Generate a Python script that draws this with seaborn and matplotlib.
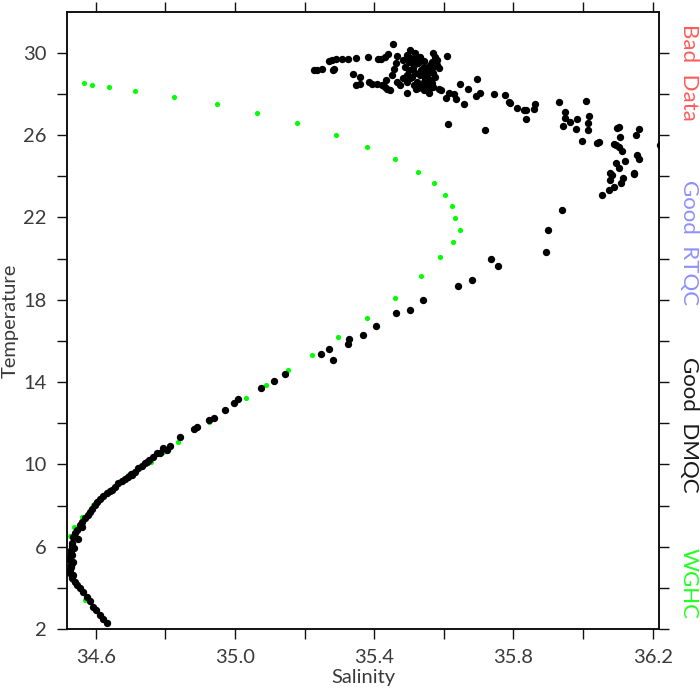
"""T-S diagram: float profile (Good DMQC) against WGHC climatology."""

import matplotlib
matplotlib.use("Agg")
import matplotlib.pyplot as plt
import seaborn as sns
import pandas as pd

sns.set_style("ticks")
plt.rcParams["font.family"] = ["Lato", "DejaVu Sans"]

TEXT = "#3a3a3a"

# ── Data ─────────────────────────────────────────────────────────────────────

wghc_sal = [34.567, 34.588, 34.637, 34.713, 34.824, 34.947, 35.063, 35.179,
            35.290, 35.379, 35.460, 35.525, 35.571, 35.603, 35.623, 35.632,
            35.646, 35.625, 35.589, 35.535, 35.459, 35.378, 35.297, 35.222,
            35.152, 35.089, 35.031, 34.926, 34.837, 34.794, 34.758, 34.694,
            34.591, 34.560, 34.538, 34.526, 34.531, 34.569, 34.634]
wghc_temp = [28.52, 28.43, 28.32, 28.14, 27.87, 27.52, 27.09, 26.57,
             26.00, 25.44, 24.82, 24.22, 23.65, 23.07, 22.54, 21.97,
             21.40, 20.82, 20.09, 19.15, 18.10, 17.10, 16.17, 15.33,
             14.58, 13.87, 13.22, 12.07, 11.09, 10.59, 10.11, 9.48,
             8.03, 7.44, 6.96, 6.52, 4.38, 3.41, 2.35]

# deep part of the profile, bottom upwards
dmqc_deep_sal = [34.632, 34.621, 34.612, 34.602, 34.593, 34.584, 34.574, 34.564,
                 34.555, 34.546, 34.541, 34.532, 34.531, 34.526, 34.526, 34.529,
                 34.531, 34.526, 34.526, 34.529, 34.528, 34.531, 34.531, 34.536,
                 34.541, 34.545, 34.555, 34.561, 34.569, 34.578, 34.584, 34.598,
                 34.604, 34.612, 34.621, 34.632, 34.646, 34.656, 34.665, 34.684,
                 34.693, 34.704, 34.713, 34.722, 34.733, 34.742, 34.753, 34.766,
                 34.775, 34.785, 34.794, 34.814, 34.842, 34.881, 34.890, 34.924,
                 34.940, 34.972, 34.996, 35.010, 35.076, 35.112, 35.144, 35.248,
                 35.269, 35.281, 35.324, 35.329, 35.367, 35.406, 35.464, 35.503,
                 35.539, 35.640, 35.680, 35.735, 35.755, 35.893, 35.900, 35.939,
                 36.054, 34.534, 34.529, 34.535, 34.533, 34.538, 34.550, 34.560,
                 34.588, 34.640, 34.676, 34.700, 34.748, 34.806]
dmqc_deep_temp = [2.28, 2.49, 2.68, 2.90, 3.08, 3.34, 3.57, 3.80,
                  3.98, 4.16, 4.30, 4.48, 4.54, 4.72, 4.87, 5.01,
                  5.19, 5.35, 5.51, 5.69, 5.84, 6.03, 6.16, 6.48,
                  6.66, 6.81, 7.05, 7.20, 7.38, 7.54, 7.70, 8.03,
                  8.17, 8.30, 8.46, 8.59, 8.75, 8.92, 9.08, 9.27,
                  9.39, 9.48, 9.63, 9.81, 9.92, 10.05, 10.21, 10.34,
                  10.57, 10.57, 10.78, 10.89, 11.34, 11.70, 11.80, 12.16,
                  12.24, 12.64, 12.97, 13.16, 13.71, 14.05, 14.39, 15.36,
                  15.59, 15.06, 15.85, 16.08, 16.30, 16.72, 17.34, 17.51,
                  17.99, 18.67, 18.97, 19.96, 19.64, 20.33, 21.40, 22.37,
                  23.07, 4.62, 5.10, 5.28, 5.60, 5.95, 6.35, 6.95,
                  7.85, 8.70, 9.18, 9.55, 10.12, 10.70]

# mixed layer / upper thermocline scatter
dmqc_top_sal = [35.228, 35.235, 35.249, 35.281, 35.285, 35.269, 35.278, 35.291,
                35.307, 35.326, 35.348, 35.381, 35.412, 35.420, 35.431, 35.441,
                35.465, 35.455, 35.457, 35.462, 35.339, 35.358, 35.348, 35.359,
                35.384, 35.393, 35.408, 35.422, 35.431, 35.436, 35.446, 35.434,
                35.451, 35.465, 35.475, 35.494, 35.521, 35.542, 35.558, 35.494,
                35.503, 35.518, 35.532, 35.570, 35.575, 35.566, 35.585, 35.499,
                35.513, 35.527, 35.542, 35.556, 35.570, 35.501, 35.518, 35.532,
                35.546, 35.561, 35.575, 35.503, 35.522, 35.537, 35.551, 35.566,
                35.494, 35.511, 35.546, 35.580, 35.522, 35.542, 35.559, 35.484,
                35.513, 35.527, 35.561, 35.585, 35.591, 35.489, 35.508, 35.551,
                35.566, 35.580, 35.494, 35.542, 35.556, 35.568, 35.499, 35.534,
                35.513, 35.482, 35.609, 35.607, 35.616, 35.628, 35.636, 35.645,
                35.657, 35.668, 35.695, 35.693, 35.705, 35.745, 35.775, 35.787,
                35.791, 35.810, 35.829, 35.837, 35.837, 35.860, 35.863, 35.930,
                35.949, 35.949, 35.941, 35.963, 35.982, 35.980, 35.997, 36.009,
                36.013, 36.013, 36.016, 36.040, 36.047, 36.088, 36.097, 36.102,
                36.095, 36.102, 36.107, 36.112, 36.121, 36.094, 36.102, 36.078,
                36.083, 36.076, 36.088, 36.073, 36.115, 36.109, 36.145, 36.147,
                36.155, 36.162, 36.153, 36.160, 35.612, 35.719, 36.220]
dmqc_top_temp = [29.15, 29.16, 29.21, 29.18, 29.19, 29.61, 29.65, 29.68,
                 29.70, 29.71, 29.74, 29.79, 29.68, 29.68, 29.81, 29.92,
                 29.86, 30.41, 29.19, 29.52, 28.97, 28.84, 28.43, 28.46,
                 28.59, 28.48, 28.48, 28.43, 28.35, 28.22, 28.19, 28.67,
                 28.92, 28.59, 28.43, 28.03, 28.22, 28.19, 28.06, 29.89,
                 30.13, 29.97, 29.81, 30.00, 29.78, 29.57, 29.24, 29.57,
                 29.40, 29.49, 29.32, 29.16, 29.00, 29.16, 29.00, 28.92,
                 28.76, 28.68, 28.84, 28.76, 28.59, 28.43, 28.35, 28.51,
                 28.92, 29.24, 29.08, 29.40, 29.73, 29.62, 29.40, 28.76,
                 28.43, 28.27, 28.27, 28.22, 28.19, 29.32, 28.84, 28.92,
                 29.24, 29.65, 28.59, 28.59, 28.55, 28.32, 29.78, 29.16,
                 29.68, 29.65, 29.84, 27.79, 28.06, 27.99, 27.74, 28.47,
                 27.51, 28.22, 28.72, 27.91, 28.03, 28.01, 27.95, 27.61,
                 27.57, 27.31, 27.22, 27.22, 26.80, 27.25, 27.51, 27.62,
                 27.14, 26.81, 26.46, 26.62, 26.78, 26.28, 25.70, 27.66,
                 26.57, 26.25, 26.93, 25.61, 25.65, 25.57, 26.36, 26.41,
                 25.50, 25.44, 25.92, 25.21, 24.74, 24.66, 24.38, 24.14,
                 24.06, 23.82, 23.49, 23.33, 23.90, 23.65, 24.17, 24.11,
                 25.03, 24.82, 26.00, 26.28, 26.55, 26.25, 25.52]

x_ticks = [34.6, 34.8, 35.0, 35.2, 35.4, 35.6, 35.8, 36.0, 36.2]
x_tick_labels = ["34.6", "", "35.0", "", "35.4", "", "35.8", "", "36.2"]
y_ticks = [2, 4, 6, 8, 10, 12, 14, 16, 18, 20, 22, 24, 26, 28, 30]
y_tick_labels = ["2", "", "6", "", "10", "", "14", "", "18", "", "22", "", "26", "", "30"]

legend_labels = ["Bad  Data", "Good  RTQC", "Good  DMQC", "WGHC"]
legend_colors = ["#ff5c5c", "#8f8fff", "#1a1a1a", "#22ff22"]

# ── Figure ───────────────────────────────────────────────────────────────────

wghc = pd.DataFrame({"Salinity": wghc_sal, "Temperature": wghc_temp})
dmqc = pd.DataFrame({"Salinity": dmqc_deep_sal + dmqc_top_sal,
                     "Temperature": dmqc_deep_temp + dmqc_top_temp})

fig = plt.figure(figsize=(7, 7), dpi=100)
ax = fig.add_axes([0.0957, 0.1014, 0.8457, 0.8815])

sns.scatterplot(data=wghc, x="Salinity", y="Temperature", ax=ax,
                color="#00ff00", s=14, linewidth=0, zorder=2)
sns.scatterplot(data=dmqc, x="Salinity", y="Temperature", ax=ax,
                color="black", s=28, linewidth=0, zorder=3)

ax.set_xlim(34.5175, 36.218)
ax.set_ylim(2, 31.98)
ax.set_xticks(x_ticks)
ax.set_xticklabels(x_tick_labels)
ax.set_yticks(y_ticks)
ax.set_yticklabels(y_tick_labels)

for side in ["left", "right", "top", "bottom"]:
    ax.spines[side].set_visible(True)
    ax.spines[side].set_linewidth(1.4)
    ax.spines[side].set_color("#111111")

ax.tick_params(direction="out", length=7.5, width=1.0, color="#111111",
               labelsize=14.5, labelcolor=TEXT, top=True, right=True,
               labeltop=False, labelright=False, pad=7)
ax.set_xlabel("Salinity", fontsize=14.5, color=TEXT, labelpad=2)
ax.set_ylabel("Temperature", fontsize=14.5, color=TEXT, labelpad=3)

for label, color, y in zip(legend_labels, legend_colors, [0.896, 0.653, 0.393, 0.167]):
    fig.text(0.984, y, label, rotation=-90, color=color, fontsize=16,
             ha="center", va="center")

fig.savefig("out.png", dpi=100)
